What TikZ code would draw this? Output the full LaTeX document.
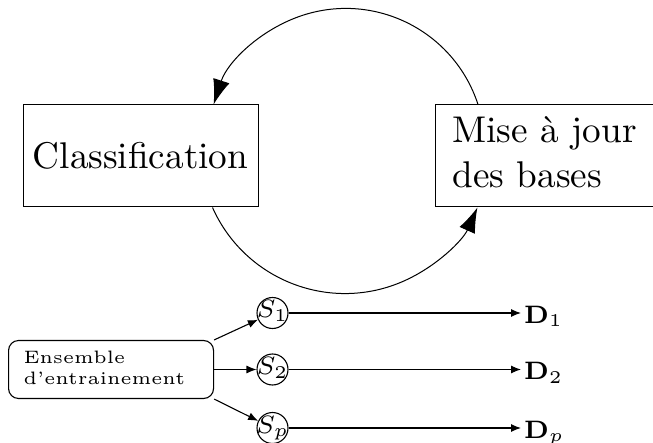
\documentclass[tikz,border=0pt]{standalone}
\usetikzlibrary{arrows.meta}
\newcommand{\myscale}[1]{\scalebox{3.6}{#1}}
\newcommand{\bigscale}[1]{\scalebox{3.72}{#1}}
\newcommand{\stext}[1]{\makebox[0pt]{\raisebox{-5pt}[0pt][0pt]{\myscale{\scriptsize #1}}}}
\tikzset{
  bigbox/.style={draw, rectangle, line width=1pt, inner sep=0pt},
  bigtip/.style={-{Latex[length=25pt,width=17pt]}, line width=1pt},
  smalltip/.style={-{Latex[length=10pt,width=8pt]}, line width=1.1pt},
  scirc/.style={draw, circle, line width=1.1pt, minimum size=31pt, inner sep=0pt},
  dlab/.style={anchor=west, inner xsep=3pt, inner ysep=0pt, text height=20pt, text depth=0pt},
  ensbox/.style={draw, rectangle, rounded corners=10pt, line width=1.1pt, anchor=west,
    minimum height=58pt, text width=175pt, inner xsep=15pt, inner ysep=0pt, align=left}
}
\begin{document}
\begin{tikzpicture}[x=1pt,y=1pt]
\useasboundingbox (0,0) rectangle (653,442);
% upper boxes
\node[bigbox, minimum width=235pt, minimum height=102pt] (cls) at (140.5,286)
  {\bigscale{Classification}};
\node[bigbox, anchor=west, minimum height=102pt, text width=188pt, inner xsep=17pt, align=left] (mise) at (435,286)
  {\raisebox{-4pt}{\bigscale{\begin{tabular}{@{}l@{}}Mise à jour\\des bases\end{tabular}}}};
% cycle arcs
\draw[bigtip] (mise.north west) ++(43,0) arc[start angle=18, end angle=162, radius=139pt];
\draw[bigtip] (cls.south west) ++(190,0) arc[start angle=204, end angle=336, radius=145pt];
% lower part
\node[ensbox] (ens) at (8,72.5)
  {\myscale{\tiny\begin{tabular}{@{}l@{}}Ensemble\\d'entrainement\end{tabular}}};
\node[scirc] (s1) at (272.5,129) {\stext{$S_1$}};
\node[scirc] (s2) at (272.5,72.5) {\stext{$S_2$}};
\node[scirc] (sp) at (272.5,14) {\stext{$S_p$}};
\node[dlab] (d1) at (521,129) {\myscale{\scriptsize$\mathbf{D}_1$}};
\node[dlab] (d2) at (521,72.5) {\myscale{\scriptsize$\mathbf{D}_2$}};
\node[dlab] (dp) at (521,14) {\myscale{\scriptsize$\mathbf{D}_p$}};
\draw[smalltip] (ens.north east) -- (s1);
\draw[smalltip] (ens.east) -- (s2);
\draw[smalltip] (ens.south east) -- (sp);
\draw[smalltip] (s1) -- (d1);
\draw[smalltip] (s2) -- (d2);
\draw[smalltip] (sp) -- (dp);
\end{tikzpicture}
\end{document}
